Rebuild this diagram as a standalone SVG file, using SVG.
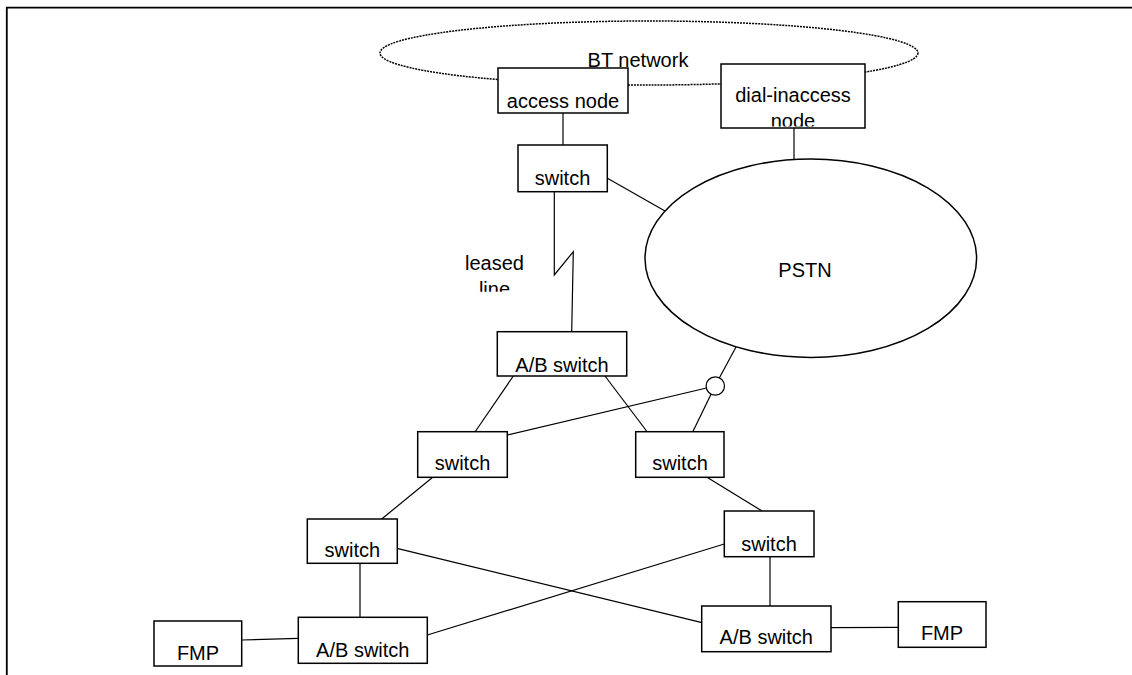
<svg xmlns="http://www.w3.org/2000/svg" width="1132" height="675" viewBox="0 0 1132 675">
  <style>
    .box { fill: #fff; stroke: #000; stroke-width: 1.5; }
    .lbl { font-family: "Liberation Sans", Arial, sans-serif; font-size: 20px; fill: #000; text-anchor: middle; }
    .conn line, .conn polyline { stroke: #000; stroke-width: 1.2; fill: none; }
  </style>
  <defs>
    <clipPath id="clip-dialin"><rect x="721" y="64" width="144" height="62.5"/></clipPath>
    <clipPath id="clip-leased"><rect x="440" y="240" width="110" height="51.7"/></clipPath>
  </defs>

  <rect width="1132" height="675" fill="#fff"/>

  <!-- page frame -->
  <path d="M6.8,675 V7.7 H1132" fill="none" stroke="#000" stroke-width="1.8"/>

  <!-- BT network boundary -->
  <g id="bt-network">
    <ellipse cx="649" cy="53" rx="269" ry="32" fill="none" stroke="#000" stroke-width="1.5" stroke-dasharray="2 1"/>
    <text class="lbl" x="638" y="66.5">BT network</text>
  </g>

  <!-- connectors -->
  <g id="connectors" class="conn">
    <line x1="563" y1="113" x2="563" y2="145"/>
    <line x1="794" y1="128" x2="794" y2="159"/>
    <line x1="607" y1="178" x2="665" y2="211"/>
    <polyline points="554.3,192 554.3,275 573.3,251.7 571.7,332"/>
    <line x1="513.3" y1="376" x2="475" y2="432"/>
    <line x1="605" y1="376" x2="647.3" y2="432"/>
    <line x1="736" y1="347" x2="715" y2="386"/>
    <line x1="507.3" y1="435" x2="715" y2="386"/>
    <line x1="692.7" y1="432" x2="715" y2="386"/>
    <line x1="432.7" y1="477.3" x2="381.7" y2="519"/>
    <line x1="707" y1="477.3" x2="762" y2="511"/>
    <line x1="397" y1="548.3" x2="702" y2="622.7"/>
    <line x1="427.3" y1="635" x2="724.3" y2="544"/>
    <line x1="360" y1="563.3" x2="360" y2="617.3"/>
    <line x1="770" y1="556.7" x2="770" y2="606"/>
    <line x1="242" y1="640" x2="298.3" y2="638.3"/>
    <line x1="831" y1="627.7" x2="898.3" y2="627.3"/>
  </g>

  <g id="leased-line-label" clip-path="url(#clip-leased)">
    <text class="lbl" x="494.5" y="270">leased</text>
    <text class="lbl" x="494.5" y="295.5">line</text>
  </g>

  <!-- nodes -->
  <g id="access-node">
    <rect class="box" x="498" y="68" width="130" height="45"/>
    <text class="lbl" x="563" y="108">access node</text>
  </g>

  <g id="dial-in-access-node">
    <rect class="box" x="721" y="64" width="144" height="64"/>
    <g clip-path="url(#clip-dialin)">
      <text class="lbl" x="793" y="101.7">dial-inaccess</text>
      <text class="lbl" x="793" y="128">node</text>
    </g>
  </g>

  <g id="switch-top">
    <rect class="box" x="518" y="145" width="89.3" height="46.7"/>
    <text class="lbl" x="562.5" y="185">switch</text>
  </g>

  <g id="pstn">
    <ellipse cx="810.8" cy="258.2" rx="165.8" ry="99.2" fill="#fff" stroke="#000" stroke-width="1.5"/>
    <text class="lbl" x="805" y="276.7">PSTN</text>
  </g>

  <g id="ab-switch-top">
    <rect class="box" x="497.3" y="331.7" width="129.4" height="44.3"/>
    <text class="lbl" x="562" y="371.5">A/B switch</text>
  </g>

  <g id="junction">
    <circle cx="715.3" cy="386" r="9.2" fill="#fff" stroke="#000" stroke-width="1.2"/>
  </g>

  <g id="switch-mid-left">
    <rect class="box" x="417.7" y="431.7" width="89.6" height="45.6"/>
    <text class="lbl" x="462.5" y="470">switch</text>
  </g>

  <g id="switch-mid-right">
    <rect class="box" x="635.7" y="431.7" width="88.3" height="45.6"/>
    <text class="lbl" x="680" y="470">switch</text>
  </g>

  <g id="switch-low-left">
    <rect class="box" x="307.3" y="519" width="90" height="44.3"/>
    <text class="lbl" x="352.3" y="556.7">switch</text>
  </g>

  <g id="switch-low-right">
    <rect class="box" x="724.3" y="511" width="89.7" height="45.7"/>
    <text class="lbl" x="769" y="550.7">switch</text>
  </g>

  <g id="ab-switch-left">
    <rect class="box" x="298.3" y="617.3" width="129" height="46"/>
    <text class="lbl" x="362.8" y="656.7">A/B switch</text>
  </g>

  <g id="ab-switch-right">
    <rect class="box" x="701.7" y="606" width="129.3" height="45.7"/>
    <text class="lbl" x="766.3" y="644">A/B switch</text>
  </g>

  <g id="fmp-left">
    <rect class="box" x="154" y="621" width="87.7" height="45"/>
    <text class="lbl" x="198" y="660">FMP</text>
  </g>

  <g id="fmp-right">
    <rect class="box" x="898.3" y="601.7" width="87.7" height="45.6"/>
    <text class="lbl" x="942" y="640">FMP</text>
  </g>
</svg>
